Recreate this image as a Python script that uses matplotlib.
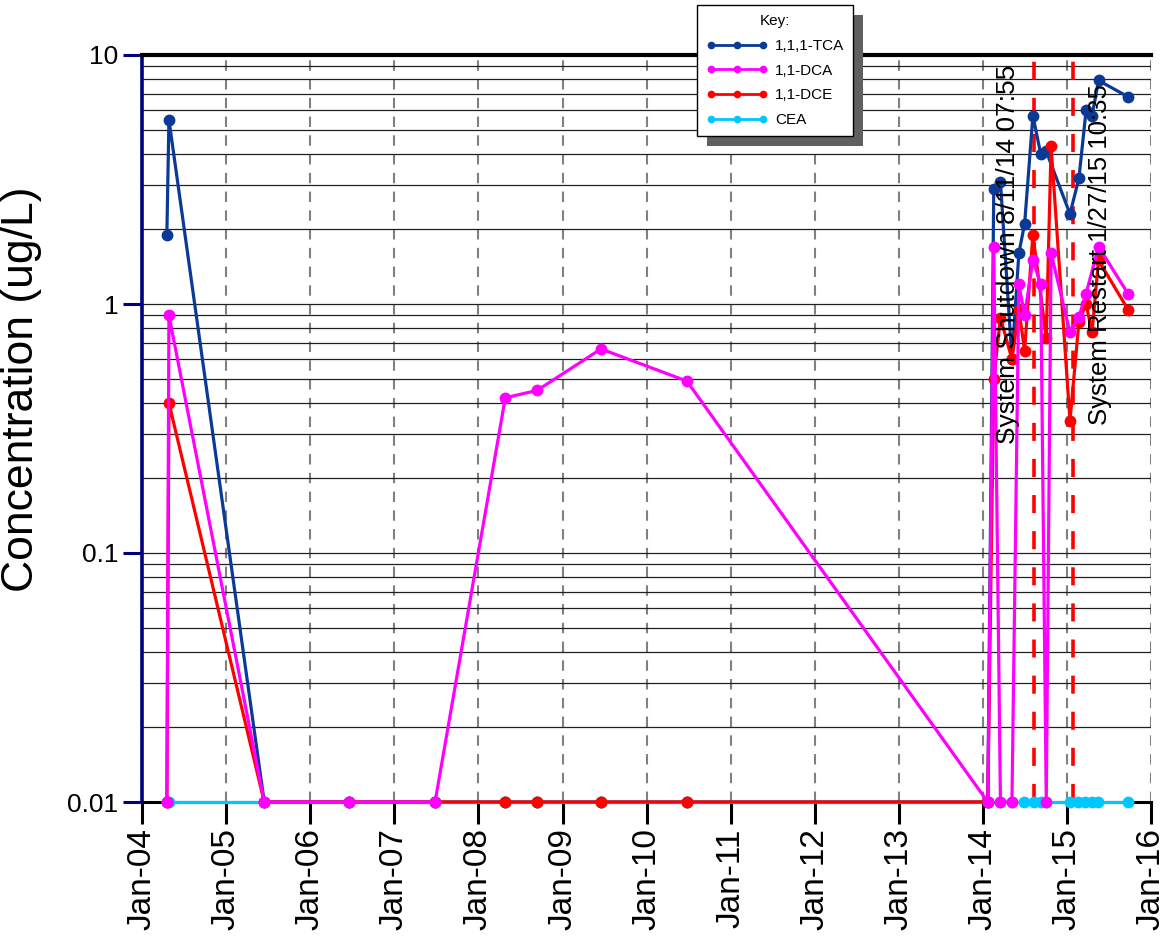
import matplotlib
matplotlib.use('Agg')
import matplotlib.pyplot as plt
import matplotlib.dates as mdates
import matplotlib.transforms as mtransforms
from matplotlib.ticker import LogLocator, NullFormatter
from matplotlib.lines import Line2D
from matplotlib.patches import Rectangle
import pandas as pd
import numpy as np

plt.rcParams['font.family'] = ['Liberation Sans', 'DejaVu Sans']

# ---------------- data ----------------
early_dates = ['2004-04-18', '2004-04-27', '2005-06-15', '2006-06-18', '2007-06-27',
               '2008-04-27', '2008-09-13', '2009-06-17', '2010-06-25']

tca_dates = early_dates + ['2014-01-22', '2014-02-17', '2014-03-18', '2014-05-07', '2014-06-06',
                           '2014-07-01', '2014-08-06', '2014-09-09', '2014-10-03', '2015-01-14',
                           '2015-02-22', '2015-03-25', '2015-04-20', '2015-05-18', '2015-09-23']
tca_vals = [1.9, 5.5, 0.01, 0.01, 0.01, 0.01, 0.01, 0.01, 0.01,
            0.01, 2.9, 3.1, 0.6, 1.6, 2.1, 5.7, 4.0, 4.1, 2.3, 3.2, 6.0, 5.7, 7.9, 6.8]

dca_dates = early_dates + ['2014-01-22', '2014-02-17', '2014-03-18', '2014-05-07', '2014-06-06',
                           '2014-07-01', '2014-08-06', '2014-09-09', '2014-10-03', '2014-10-24',
                           '2015-01-14', '2015-02-22', '2015-03-25', '2015-05-18', '2015-09-23']
dca_vals = [0.01, 0.9, 0.01, 0.01, 0.01, 0.42, 0.45, 0.66, 0.49,
            0.01, 1.7, 0.01, 0.01, 1.2, 0.9, 1.5, 1.2, 0.01, 1.6, 0.77, 0.89, 1.1, 1.7, 1.1]

dce_dates = early_dates + ['2014-01-22', '2014-02-17', '2014-03-18', '2014-05-07', '2014-06-06',
                           '2014-07-01', '2014-08-06', '2014-10-03', '2014-10-24', '2015-01-14',
                           '2015-02-22', '2015-03-25', '2015-04-20', '2015-05-18', '2015-09-23']
dce_vals = [0.01, 0.4, 0.01, 0.01, 0.01, 0.01, 0.01, 0.01, 0.01,
            0.01, 0.5, 0.88, 0.6, 0.95, 0.65, 1.9, 0.73, 4.3, 0.34, 0.85, 1.0, 0.77, 1.5, 0.95]

cea_dates = early_dates + ['2014-01-22', '2014-03-18', '2014-05-07', '2014-06-27', '2014-08-10',
                           '2014-09-09', '2014-10-03', '2015-01-14', '2015-02-18', '2015-03-19',
                           '2015-04-20', '2015-05-15', '2015-09-23']
cea_vals = [0.01] * len(cea_dates)

series_names = ['1,1,1-TCA', '1,1-DCA', '1,1-DCE', 'CEA']
series_colors = ['#0A3A96', '#FF00FF', '#FF0000', '#00C8FF']

event_dates = ['2014-08-11', '2015-01-27']
event_labels = ['System Shutdown 8/11/14 07:55', 'System Restart 1/27/15 10:35']

ytick_vals = [0.01, 0.1, 1, 10]
ytick_labels = ['0.01', '0.1', '1', '10']

# ---------------- figure ----------------
W, H = 1165, 942
fig = plt.figure(figsize=(W / 100, H / 100), dpi=100)
ax = fig.add_axes([142 / W, 1 - 802 / H, (1151 - 142) / W, (802 - 55) / H])

ax.set_yscale('log')
ax.set_ylim(0.01, 10)
ax.set_xlim(pd.Timestamp('2004-01-01'), pd.Timestamp('2016-01-01'))

all_dates = [tca_dates, dca_dates, dce_dates, cea_dates]
all_vals = [tca_vals, dca_vals, dce_vals, cea_vals]
zorders = [3, 6, 5, 4]
for d, v, c, n, z in zip(all_dates, all_vals, series_colors, series_names, zorders):
    ax.plot(pd.to_datetime(d), v, '-o', color=c, lw=2.3, ms=7.5, label=n, zorder=z, clip_on=False)

# event lines
for d in event_dates:
    ax.axvline(pd.Timestamp(d), color='#FF0000', lw=2.6, ls=(0, (5, 5)), zorder=2.5)

t1 = mtransforms.offset_copy(ax.transData, fig=fig, x=-26, y=0, units='dots')
t2 = mtransforms.offset_copy(ax.transData, fig=fig, x=27, y=0, units='dots')
ax.text(pd.Timestamp(event_dates[0]), 1.58, event_labels[0], rotation=90, ha='center', va='center',
        fontsize=19, transform=t1, zorder=10)
ax.text(pd.Timestamp(event_dates[1]), 1.58, event_labels[1], rotation=90, ha='center', va='center',
        fontsize=18.5, transform=t2, zorder=10)

# axes styling
ax.set_yticks(ytick_vals)
ax.set_yticklabels(ytick_labels)
ax.yaxis.set_minor_locator(LogLocator(base=10, subs=np.arange(2, 10)))
ax.yaxis.set_minor_formatter(NullFormatter())
ax.tick_params(axis='y', which='major', length=14, width=2.2, color='#000080', labelsize=19, pad=3)
ax.tick_params(axis='y', which='minor', length=0)

ax.xaxis.set_major_locator(mdates.YearLocator())
ax.xaxis.set_major_formatter(mdates.DateFormatter('%b-%y'))
ax.tick_params(axis='x', which='major', length=16, width=2.2, color='black', labelsize=24,
               labelrotation=90, pad=3)

ax.grid(axis='y', which='both', color='#202020', lw=0.9, ls='-', zorder=1)
ax.grid(axis='x', which='major', color='#808080', lw=1.5, ls=(0, (5, 4)), zorder=1)
ax.set_axisbelow(True)

ax.spines['left'].set_color('#000080')
ax.spines['left'].set_linewidth(2.6)
ax.spines['top'].set_color('black')
ax.spines['top'].set_linewidth(3)
ax.spines['bottom'].set_color('black')
ax.spines['bottom'].set_linewidth(2.2)
ax.spines['right'].set_visible(False)

ax.set_ylabel('Concentration (ug/L)', fontsize=32)
ax.yaxis.set_label_coords(-0.099, 0.553)

# legend with shadow
handles = [Line2D([0], [0], color=c, lw=2, marker='o', ms=4.5) for c in series_colors]
leg = fig.legend(handles, series_names, loc='upper left',
                 bbox_to_anchor=(697 / W, 1 - 5 / H), bbox_transform=fig.transFigure,
                 title='Key:', title_fontsize=11, fontsize=11, numpoints=3, handlelength=4.0,
                 frameon=True, fancybox=False, edgecolor='black', framealpha=1,
                 borderaxespad=0, labelspacing=0.7, borderpad=0.6, handletextpad=0.5)
leg.get_frame().set_linewidth(1.0)
leg.set_zorder(20)

fig.canvas.draw()
bb = leg.get_window_extent()
shadow = Rectangle((bb.x0 + 10, bb.y0 - 10), bb.width, bb.height, transform=None,
                   facecolor='#606060', edgecolor='none', zorder=19)
fig.patches.append(shadow)
shadow.set_figure(fig)

fig.savefig('out.png', dpi=100)
